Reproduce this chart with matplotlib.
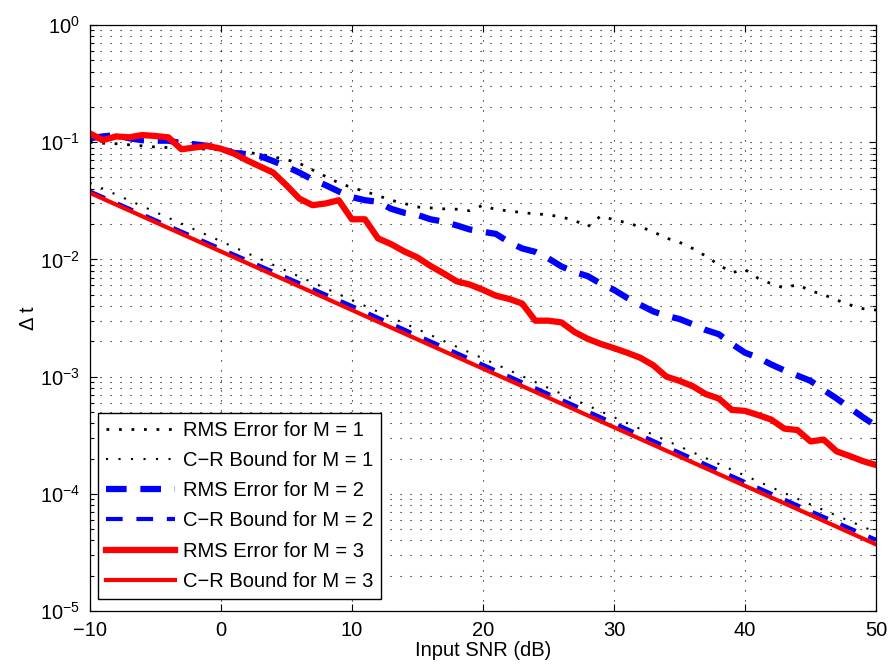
import numpy as np
import matplotlib
matplotlib.use("Agg")
import matplotlib.pyplot as plt

plt.rcParams['font.family'] = ['Liberation Sans', 'DejaVu Sans']
plt.rcParams['mathtext.default'] = 'regular'
plt.rcParams['font.size'] = 14.5

# SNR axis for the simulated RMS errors (1 dB steps)
snr = np.arange(-10, 51)

rms_m1 = [0.100, 0.098, 0.097, 0.095, 0.093, 0.091, 0.090, 0.089, 0.088, 0.087,
          0.086, 0.084, 0.082, 0.079, 0.075, 0.071, 0.066, 0.058, 0.051, 0.045,
          0.041, 0.038, 0.035, 0.032, 0.030, 0.028, 0.0275, 0.027, 0.0268, 0.026,
          0.029, 0.0265, 0.026, 0.025, 0.0245, 0.024, 0.023, 0.0215, 0.0190, 0.0235,
          0.0218, 0.0205, 0.0190, 0.0172, 0.0152, 0.0140, 0.0124, 0.0107, 0.0090, 0.0077,
          0.0082, 0.0069, 0.0062, 0.0057, 0.0061, 0.0054, 0.0050, 0.0045, 0.0041, 0.0038,
          0.0037]

rms_m2 = [0.108, 0.112, 0.115, 0.108, 0.104, 0.103, 0.103, 0.098, 0.096, 0.093,
          0.088, 0.081, 0.079, 0.076, 0.069, 0.062, 0.055, 0.048, 0.043, 0.038,
          0.034, 0.032, 0.031, 0.027, 0.025, 0.024, 0.022, 0.021, 0.0195, 0.018,
          0.0172, 0.0165, 0.0140, 0.0124, 0.0116, 0.0102, 0.0087, 0.0078, 0.0072, 0.0062,
          0.0055, 0.0047, 0.0041, 0.0036, 0.0033, 0.0031, 0.0028, 0.0025, 0.0023, 0.0019,
          0.0016, 0.00145, 0.00127, 0.00113, 0.00102, 0.00092, 0.00077, 0.00065, 0.00054, 0.00045,
          0.00038]

rms_m3 = [0.119, 0.104, 0.112, 0.110, 0.115, 0.113, 0.110, 0.087, 0.090, 0.093,
          0.088, 0.080, 0.070, 0.062, 0.055, 0.043, 0.033, 0.029, 0.030, 0.032,
          0.022, 0.022, 0.0151, 0.0135, 0.0117, 0.0104, 0.0088, 0.0076, 0.0065, 0.0061,
          0.0055, 0.0049, 0.0046, 0.0042, 0.0030, 0.0030, 0.0029, 0.0024, 0.0021, 0.0019,
          0.00175, 0.0016, 0.00145, 0.00125, 0.00100, 0.00092, 0.00083, 0.00071, 0.00065, 0.00052,
          0.00051, 0.00047, 0.00043, 0.00036, 0.00035, 0.00028, 0.00029, 0.00023, 0.00021, 0.00019,
          0.000176]

# Cramer-Rao bounds (straight in log scale), read every 5 dB
snr_bound = np.arange(-10, 51, 5)
crb_m1 = [0.045, 0.0254, 0.0143, 0.0080, 0.0045, 0.00254, 0.00143, 0.00080, 0.00045,
          0.000254, 0.000143, 0.000081, 0.000047]
crb_m2 = [0.038, 0.0216, 0.0123, 0.0070, 0.0040, 0.00224, 0.00126, 0.00071, 0.00040,
          0.000224, 0.000126, 0.000071, 0.0000405]
crb_m3 = [0.037, 0.0208, 0.0117, 0.0066, 0.0037, 0.00208, 0.00117, 0.00066, 0.00037,
          0.000208, 0.000117, 0.000066, 0.000037]

fig = plt.figure(figsize=(8.9, 6.68), dpi=100)
ax = fig.add_axes([0.1008, 0.0853, 0.8835, 0.8773])

ax.semilogy(snr, rms_m1, color='k', lw=2, linestyle=(0, (1, 3.5)), label='RMS Error for M = 1')
ax.semilogy(snr_bound, crb_m1, color='k', lw=1.5, linestyle=(0, (1, 5)), label='C\u2212R Bound for M = 1')
ax.semilogy(snr, rms_m2, color='b', lw=4.5, linestyle=(0, (3.3, 2.2)), label='RMS Error for M = 2')
ax.semilogy(snr_bound, crb_m2, color='b', lw=3, linestyle=(0, (4, 3.3)), label='C\u2212R Bound for M = 2')
ax.semilogy(snr, rms_m3, color='r', lw=4.5, label='RMS Error for M = 3')
ax.semilogy(snr_bound, crb_m3, color='r', lw=3, label='C\u2212R Bound for M = 3')

ax.set_xlim(-10, 50)
ax.set_ylim(1e-5, 1)
ax.set_xticks(np.arange(-10, 51, 10))
ax.set_xticklabels(['\u221210', '0', '10', '20', '30', '40', '50'])

ax.grid(True, which='major', axis='x', color='k', lw=0.8, linestyle=(0, (1, 8)))
ax.grid(True, which='both', axis='y', color='k', lw=0.8, linestyle=(0, (1, 8)))
ax.tick_params(which='both', direction='in', top=True, right=True, width=0.8)
ax.tick_params(which='major', length=5)
ax.tick_params(which='minor', length=3)
ax.tick_params(axis='x', which='minor', top=False, bottom=False)
ax.tick_params(axis='y', which='major', pad=7)
ax.tick_params(axis='x', which='major', pad=7)
for s in ax.spines.values():
    s.set_linewidth(0.9)

ax.set_xlabel('Input SNR (dB)', labelpad=1)
ax.set_ylabel('\u0394 t', labelpad=1)

leg = ax.legend(loc='lower left', bbox_to_anchor=(0.011, 0.0205), borderaxespad=0,
                fancybox=False, framealpha=1, edgecolor='k', handlelength=3.4,
                handletextpad=0.4, labelspacing=0.56, borderpad=0.4)
leg.get_frame().set_linewidth(1.0)

fig.savefig('out.png', dpi=100)
